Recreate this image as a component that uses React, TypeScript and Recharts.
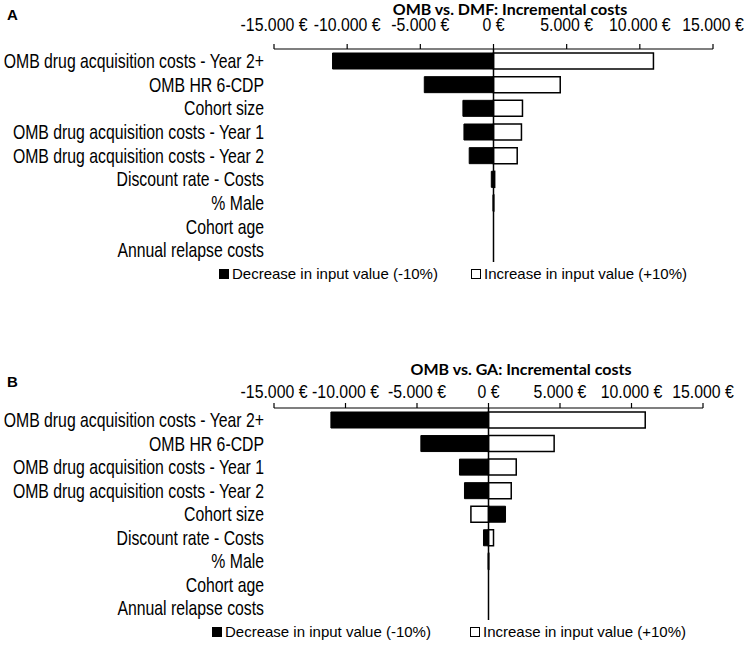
import { BarChart, Bar, XAxis, YAxis, ReferenceLine } from 'recharts'

const categoriesA = [
  'OMB drug acquisition costs - Year 2+',
  'OMB HR 6-CDP',
  'Cohort size',
  'OMB drug acquisition costs - Year 1',
  'OMB drug acquisition costs - Year 2',
  'Discount rate - Costs',
  '% Male',
  'Cohort age',
  'Annual relapse costs',
]
const decreaseA = [-11000, -4730, -2090, -2020, -1660, -150, -30, 0, 0]
const increaseA = [10930, 4560, 1980, 1910, 1620, 80, 20, 0, 0]

const categoriesB = [
  'OMB drug acquisition costs - Year 2+',
  'OMB HR 6-CDP',
  'OMB drug acquisition costs - Year 1',
  'OMB drug acquisition costs - Year 2',
  'Cohort size',
  'Discount rate - Costs',
  '% Male',
  'Cohort age',
  'Annual relapse costs',
]
const decreaseB = [-11020, -4730, -2030, -1680, 1190, -350, -20, 0, 0]
const increaseB = [10960, 4590, 1940, 1590, -1230, 350, 20, 0, 0]

const xTicks = [-15000, -10000, -5000, 0, 5000, 10000, 15000]
const legendLabels = ['Decrease in input value (-10%)', 'Increase in input value (+10%)']

const arial = "'Liberation Sans', Arial, sans-serif"
// no Arial Narrow available: squeeze Liberation Sans horizontally
const SQUEEZE = 0.79

const fmtEuro = (v: number) => {
  const s = Math.abs(v).toString().replace(/\B(?=(\d{3})+(?!\d))/g, '.')
  return (v < 0 ? '-' : '') + s + ' €'
}

function NarrowYTick(props: any) {
  const { x, y, payload } = props
  return (
    <g transform={`translate(${x},${y}) scale(${SQUEEZE},1)`}>
      <text textAnchor="end" dy="0.36em" fill="#000" fontSize={20} fontFamily={arial}>
        {payload.value}
      </text>
    </g>
  )
}

function NarrowXTick(props: any) {
  const { x, y, payload } = props
  return (
    <g transform={`translate(${x},${y}) scale(0.88,1)`}>
      <text textAnchor="middle" fill="#000" fontSize={18} fontFamily={arial}>
        {fmtEuro(payload.value)}
      </text>
    </g>
  )
}

interface PanelProps {
  letter: string
  title: string
  categories: string[]
  decrease: number[]
  increase: number[]
  top: number
  height: number
  axisTop: number
  plotBottom: number
  plotRight: number
  tickMargin: number
  titleX: number
  titleY: number
  letterY: number
  legendY: number
  legendX: number[]
}

function Panel(p: PanelProps) {
  const data = p.categories.map((name, i) => ({ name, dec: p.decrease[i], inc: p.increase[i] }))
  return (
    <div style={{ position: 'absolute', left: 0, top: p.top, width: 744, height: p.height }}>
      <div style={{ position: 'absolute', left: 7, top: p.letterY - 9, fontFamily: arial, fontWeight: 700, fontSize: 15 }}>
        {p.letter}
      </div>
      <div
        style={{
          position: 'absolute',
          left: p.titleX - 150,
          width: 300,
          top: p.titleY - 10,
          textAlign: 'center',
          fontFamily: 'Lato, sans-serif',
          fontWeight: 700,
          fontSize: 16,
          lineHeight: '20px',
        }}
      >
        {p.title}
      </div>
      <BarChart
        width={744}
        height={p.height}
        data={data}
        layout="vertical"
        stackOffset="sign"
        barCategoryGap={0}
        margin={{ top: p.axisTop - 50, right: 744 - p.plotRight, left: 0, bottom: p.height - p.plotBottom }}
      >
        <XAxis
          type="number"
          orientation="top"
          domain={[-15000, 15000]}
          ticks={xTicks}
          height={50}
          tickSize={5}
          tickMargin={p.tickMargin}
          axisLine={{ stroke: '#000', strokeWidth: 1.2 }}
          tickLine={{ stroke: '#000', strokeWidth: 1.2 }}
          tick={<NarrowXTick />}
          interval={0}
        />
        <YAxis
          type="category"
          dataKey="name"
          width={274}
          axisLine={false}
          tickLine={false}
          tickMargin={4}
          interval={0}
          tick={<NarrowYTick />}
        />
        <Bar dataKey="dec" stackId="s" barSize={16} fill="#000" stroke="#000" strokeWidth={1} isAnimationActive={false} />
        <Bar dataKey="inc" stackId="s" barSize={16} fill="#fff" stroke="#000" strokeWidth={1.5} isAnimationActive={false} />
        <ReferenceLine x={0} stroke="#000" strokeWidth={1.5} />
      </BarChart>
      {legendLabels.map((label, i) => (
        <div
          key={label}
          style={{
            position: 'absolute',
            left: p.legendX[i],
            top: p.legendY - 9,
            display: 'flex',
            alignItems: 'center',
            fontFamily: arial,
            fontSize: 15,
            whiteSpace: 'nowrap',
          }}
        >
          <span
            style={{
              display: 'inline-block',
              width: 8,
              height: 8,
              marginRight: 3,
              background: i === 0 ? '#000' : '#fff',
              border: '1px solid #000',
            }}
          />
          {label}
        </div>
      ))}
    </div>
  )
}

export default function App() {
  return (
    <div style={{ position: 'absolute', left: 0, top: 0, width: 744, height: 651, background: '#fff' }}>
      <Panel
        letter="A"
        title="OMB vs. DMF: Incremental costs"
        categories={categoriesA}
        decrease={decreaseA}
        increase={increaseA}
        top={0}
        height={300}
        axisTop={49}
        plotBottom={262}
        plotRight={713}
        tickMargin={13}
        titleX={510}
        titleY={9}
        letterY={15}
        legendY={274}
        legendX={[219, 471]}
      />
      <Panel
        letter="B"
        title="OMB vs. GA: Incremental costs"
        categories={categoriesB}
        decrease={decreaseB}
        increase={increaseB}
        top={320}
        height={331}
        axisTop={88}
        plotBottom={300}
        plotRight={703}
        tickMargin={5}
        titleX={521}
        titleY={49}
        letterY={62}
        legendY={312}
        legendX={[212, 470]}
      />
    </div>
  )
}
